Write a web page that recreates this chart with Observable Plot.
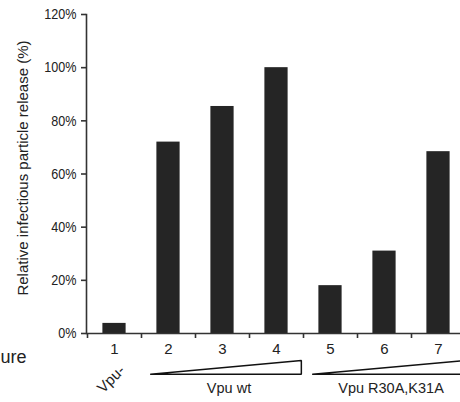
<!DOCTYPE html>
<html>
<head>
<meta charset="utf-8">
<script src="https://cdn.jsdelivr.net/npm/d3@7"></script>
<script src="https://cdn.jsdelivr.net/npm/@observablehq/plot@0.6"></script>
<style>
  html, body { margin: 0; padding: 0; background: #fff; }
  #chart svg { display: block; font-family: "Liberation Sans", Arial, sans-serif; }
</style>
</head>
<body>
<div id="chart"></div>
<script>
// ---- data ----
const lanes = [1, 2, 3, 4, 5, 6, 7];
const release = [3.8, 72, 85.4, 100, 18, 31, 68.4]; // % relative infectious particle release
const yTicks = [0, 20, 40, 60, 80, 100, 120];
const groupLabels = ["Vpu wt", "Vpu R30A,K31A"];
const groupFrom = [2, 5];
const groupTo = [4, 7];
const controlLabel = "Vpu-";
const controlLane = 1;
const yLabel = "Relative infectious particle release (%)";
const cutText = "ure";

const bars = lanes.map((lane, i) => ({lane, value: release[i]}));
const boundaries = lanes.map(l => l - 0.5);

// wedge triangles under each group (annotation shapes)
const wedges = groupLabels.flatMap((g, i) => {
  const x0 = groupFrom[i] - 0.33, x1 = groupTo[i] + 0.46;
  return [
    {g, x: x0, y: -15.3},
    {g, x: x1, y: -15.3},
    {g, x: x1, y: -10.2},
    {g, x: x0, y: -15.3}
  ];
});
const groups = groupLabels.map((g, i) => ({g, x: (groupFrom[i] - 0.33 + groupTo[i] + 0.46) / 2}));

const ink = "#222";
const axisInk = "#333";

const chart = Plot.plot({
  width: 460,
  height: 402,
  marginLeft: 86,
  marginRight: 0,
  marginTop: 14,
  marginBottom: 69,
  style: {fontFamily: "'Liberation Sans', Arial, sans-serif", color: ink, background: "#fff"},
  x: {type: "linear", domain: [0.5, 7.5], range: [87, 465]},
  y: {domain: [0, 120]},
  marks: [
    Plot.rectY(bars, {x1: d => d.lane - 0.215, x2: d => d.lane + 0.215, y: "value", fill: "#252525"}),
    Plot.ruleY([0], {stroke: axisInk, strokeWidth: 1.6}),
    Plot.frame({anchor: "left", stroke: axisInk, strokeWidth: 1.6}),
    Plot.axisY(yTicks, {
      tickSize: 5, tickPadding: 5, stroke: axisInk, strokeWidth: 1.6,
      tickFormat: d => d + "%", fontSize: 15, label: null, ariaLabel: "y-axis"
    }),
    Plot.axisX(boundaries, {tickSize: 5, stroke: axisInk, strokeWidth: 1.6, tickFormat: () => "", label: null}),
    Plot.axisX(lanes, {tickSize: 0, tickPadding: 10, fontSize: 15, label: null}),
    Plot.text([yLabel], {frameAnchor: "left", textAnchor: "middle", lineAnchor: "middle", rotate: -90, dx: -63, dy: -6, fontSize: 15, fill: ink}),
    Plot.line(wedges, {x: "x", y: "y", z: "g", stroke: "#111", strokeWidth: 1.5, fill: "#fff", strokeLinejoin: "miter"}),
    Plot.text(groups, {x: "x", text: "g", frameAnchor: "bottom", dy: 59, dx: 3, fontSize: 14.5, fill: ink}),
    Plot.text([controlLabel], {x: () => controlLane, frameAnchor: "bottom", dy: 49, rotate: -45, fontSize: 15, fill: ink}),
    Plot.text([cutText], {frameAnchor: "bottom-left", dx: -86, dy: 29, textAnchor: "start", fontSize: 18, fill: ink})
  ]
});
// condense the y tick labels horizontally (the reference uses a narrow face)
d3.select(chart).selectAll("g[aria-label='y-axis tick label'] text").each(function() {
  const t = this.getAttribute("transform") || "";
  this.setAttribute("transform", t + " scale(0.84,1)");
});
document.getElementById("chart").appendChild(chart);
</script>
</body>
</html>
